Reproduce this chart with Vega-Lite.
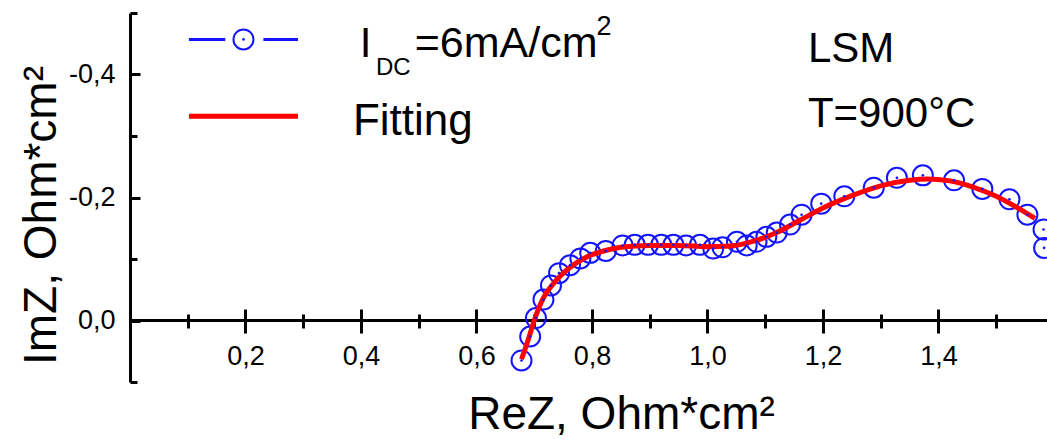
{
  "$schema": "https://vega.github.io/schema/vega-lite/v6.json",
  "width": 917,
  "height": 369,
  "autosize": {"type": "none"},
  "padding": {"left": 130, "top": 13, "right": 0, "bottom": 57},
  "background": "white",
  "config": {
    "view": {"stroke": null},
    "font": "Liberation Sans",
    "axis": {
      "grid": false,
      "domainColor": "black",
      "tickColor": "black",
      "labelColor": "black",
      "titleColor": "black",
      "labelFont": "Liberation Sans",
      "titleFont": "Liberation Sans",
      "labelFontWeight": "normal",
      "titleFontWeight": "normal"
    }
  },
  "datasets": {
    "measured": [
      {"ReZ": 0.678, "ImZ": 0.065},
      {"ReZ": 0.693, "ImZ": 0.026},
      {"ReZ": 0.703, "ImZ": -0.004},
      {"ReZ": 0.716, "ImZ": -0.034},
      {"ReZ": 0.729, "ImZ": -0.057},
      {"ReZ": 0.743, "ImZ": -0.077},
      {"ReZ": 0.762, "ImZ": -0.090},
      {"ReZ": 0.780, "ImZ": -0.101},
      {"ReZ": 0.797, "ImZ": -0.110},
      {"ReZ": 0.824, "ImZ": -0.113},
      {"ReZ": 0.853, "ImZ": -0.122},
      {"ReZ": 0.874, "ImZ": -0.123},
      {"ReZ": 0.897, "ImZ": -0.123},
      {"ReZ": 0.920, "ImZ": -0.123},
      {"ReZ": 0.941, "ImZ": -0.123},
      {"ReZ": 0.963, "ImZ": -0.122},
      {"ReZ": 0.987, "ImZ": -0.123},
      {"ReZ": 1.010, "ImZ": -0.117},
      {"ReZ": 1.026, "ImZ": -0.119},
      {"ReZ": 1.051, "ImZ": -0.128},
      {"ReZ": 1.068, "ImZ": -0.122},
      {"ReZ": 1.085, "ImZ": -0.128},
      {"ReZ": 1.102, "ImZ": -0.136},
      {"ReZ": 1.120, "ImZ": -0.143},
      {"ReZ": 1.143, "ImZ": -0.156},
      {"ReZ": 1.163, "ImZ": -0.172},
      {"ReZ": 1.197, "ImZ": -0.190},
      {"ReZ": 1.237, "ImZ": -0.202},
      {"ReZ": 1.288, "ImZ": -0.216},
      {"ReZ": 1.328, "ImZ": -0.232},
      {"ReZ": 1.373, "ImZ": -0.236},
      {"ReZ": 1.427, "ImZ": -0.228},
      {"ReZ": 1.476, "ImZ": -0.214},
      {"ReZ": 1.523, "ImZ": -0.197},
      {"ReZ": 1.554, "ImZ": -0.172},
      {"ReZ": 1.582, "ImZ": -0.148},
      {"ReZ": 1.583, "ImZ": -0.118}
    ],
    "fit": [
      {"ReZ": 0.678, "ImZ": 0.063},
      {"ReZ": 0.690, "ImZ": 0.030},
      {"ReZ": 0.700, "ImZ": 0.000},
      {"ReZ": 0.715, "ImZ": -0.035},
      {"ReZ": 0.735, "ImZ": -0.062},
      {"ReZ": 0.760, "ImZ": -0.085},
      {"ReZ": 0.790, "ImZ": -0.103},
      {"ReZ": 0.820, "ImZ": -0.113},
      {"ReZ": 0.850, "ImZ": -0.119},
      {"ReZ": 0.900, "ImZ": -0.122},
      {"ReZ": 0.950, "ImZ": -0.122},
      {"ReZ": 1.000, "ImZ": -0.120},
      {"ReZ": 1.040, "ImZ": -0.121},
      {"ReZ": 1.080, "ImZ": -0.129},
      {"ReZ": 1.120, "ImZ": -0.143},
      {"ReZ": 1.160, "ImZ": -0.163},
      {"ReZ": 1.200, "ImZ": -0.183},
      {"ReZ": 1.250, "ImZ": -0.203},
      {"ReZ": 1.300, "ImZ": -0.219},
      {"ReZ": 1.350, "ImZ": -0.228},
      {"ReZ": 1.380, "ImZ": -0.230},
      {"ReZ": 1.420, "ImZ": -0.227},
      {"ReZ": 1.460, "ImZ": -0.217},
      {"ReZ": 1.500, "ImZ": -0.202},
      {"ReZ": 1.530, "ImZ": -0.187},
      {"ReZ": 1.567, "ImZ": -0.166}
    ]
  },
  "resolve": {"axis": {"x": "independent", "y": "independent"}},
  "layer": [
    {
      "data": {"values": [{}]},
      "mark": {"type": "rule", "strokeWidth": 3, "color": "black"},
      "encoding": {
        "y": {"datum": 0, "type": "quantitative", "axis": null,
              "scale": {"domain": [-0.5, 0.1], "reverse": true, "nice": false, "zero": false}}
      }
    },
    {
      "data": {"name": "measured"},
      "mark": {"type": "point", "shape": "circle", "filled": false, "size": 400, "strokeWidth": 2, "color": "#1414ff", "opacity": 1, "clip": true},
      "encoding": {
        "x": {
          "field": "ReZ", "type": "quantitative",
          "scale": {"domain": [0, 1.588], "nice": false, "zero": false},
          "axis": {
            "orient": "bottom",
            "values": [0.2, 0.4, 0.6, 0.8, 1.0, 1.2, 1.4],
            "offset": -73,
            "domain": false,
            "tickSize": 24,
            "tickWidth": 3,
            "labelFontSize": 27,
            "labelPadding": 10,
            "labelFlush": false,
            "labelExpr": "replace(format(datum.value, '.1f'), '.', ',')",
            "title": "ReZ, Ohm*cm²",
            "titleFontSize": 46,
            "titleX": 491,
            "titleY": 119,
            "titleAlign": "center",
            "titleBaseline": "alphabetic"
          }
        },
        "y": {
          "field": "ImZ", "type": "quantitative",
          "scale": {"domain": [-0.5, 0.1], "reverse": true, "nice": false, "zero": false},
          "axis": {
            "orient": "left",
            "values": [-0.4, -0.2, 0],
            "ticks": false,
            "domain": true,
            "domainWidth": 3,
            "labelFontSize": 27,
            "labelPadding": 15,
            "labelExpr": "(datum.value < -0.001 ? '-' : '') + replace(format(abs(datum.value), '.1f'), '.', ',')",
            "title": "ImZ, Ohm*cm²",
            "titleFontSize": 46,
            "titleAngle": 270,
            "titleX": -75,
            "titleY": 202,
            "titleAlign": "center",
            "titleBaseline": "alphabetic"
          }
        }
      }
    },
    {
      "data": {"name": "fit"},
      "mark": {"type": "line", "color": "#ff0000", "strokeWidth": 5, "interpolate": "monotone", "clip": true},
      "encoding": {
        "x": {
          "field": "ReZ", "type": "quantitative",
          "axis": {
            "orient": "bottom",
            "values": [0.1, 0.3, 0.5, 0.7, 0.9, 1.1, 1.3, 1.5],
            "offset": -68,
            "domain": false,
            "tickSize": 14,
            "tickWidth": 3,
            "labels": false,
            "title": null
          }
        },
        "y": {
          "field": "ImZ", "type": "quantitative",
          "axis": {
            "orient": "left",
            "values": [-0.4, -0.2, 0],
            "offset": -10,
            "tickSize": 10,
            "tickWidth": 3,
            "domain": false,
            "labels": false,
            "title": null
          }
        }
      }
    },
    {
      "data": {"name": "measured"},
      "mark": {"type": "point", "shape": "circle", "filled": true, "size": 7, "color": "#1414ff", "opacity": 1, "clip": true},
      "encoding": {
        "x": {"field": "ReZ", "type": "quantitative", "axis": null},
        "y": {
          "field": "ImZ", "type": "quantitative",
          "axis": {
            "orient": "left",
            "values": [-0.5, -0.3, -0.1, 0.1],
            "offset": -7,
            "tickSize": 7,
            "tickWidth": 3,
            "domain": false,
            "labels": false,
            "title": null
          }
        }
      }
    },
    {
      "data": {"values": [{}]},
      "mark": {"type": "rule", "strokeWidth": 3, "color": "#1414ff"},
      "encoding": {
        "x": {"datum": 0.102, "type": "quantitative", "axis": null},
        "x2": {"datum": 0.165},
        "y": {"datum": -0.457, "type": "quantitative", "axis": null}
      }
    },
    {
      "data": {"values": [{}]},
      "mark": {"type": "rule", "strokeWidth": 3, "color": "#1414ff"},
      "encoding": {
        "x": {"datum": 0.231, "type": "quantitative", "axis": null},
        "x2": {"datum": 0.291},
        "y": {"datum": -0.457, "type": "quantitative", "axis": null}
      }
    },
    {
      "data": {"values": [{}]},
      "mark": {"type": "point", "shape": "circle", "filled": false, "size": 400, "strokeWidth": 2, "color": "#1414ff", "opacity": 1},
      "encoding": {
        "x": {"datum": 0.1965, "type": "quantitative", "axis": null},
        "y": {"datum": -0.457, "type": "quantitative", "axis": null}
      }
    },
    {
      "data": {"values": [{}]},
      "mark": {"type": "point", "shape": "circle", "filled": true, "size": 7, "color": "#1414ff", "opacity": 1},
      "encoding": {
        "x": {"datum": 0.1965, "type": "quantitative", "axis": null},
        "y": {"datum": -0.457, "type": "quantitative", "axis": null}
      }
    },
    {
      "data": {"values": [{}]},
      "mark": {"type": "rule", "strokeWidth": 5, "color": "#ff0000"},
      "encoding": {
        "x": {"datum": 0.102, "type": "quantitative", "axis": null},
        "x2": {"datum": 0.291},
        "y": {"datum": -0.332, "type": "quantitative", "axis": null}
      }
    },
    {
      "data": {"values": [{}]},
      "mark": {"type": "text", "text": "I", "fontSize": 42, "align": "left", "baseline": "alphabetic", "color": "black"},
      "encoding": {
        "x": {"datum": 0.398, "type": "quantitative", "axis": null},
        "y": {"datum": -0.428, "type": "quantitative", "axis": null}
      }
    },
    {
      "data": {"values": [{}]},
      "mark": {"type": "text", "text": "DC", "fontSize": 24, "align": "left", "baseline": "alphabetic", "color": "black"},
      "encoding": {
        "x": {"datum": 0.426, "type": "quantitative", "axis": null},
        "y": {"datum": -0.400, "type": "quantitative", "axis": null}
      }
    },
    {
      "data": {"values": [{}]},
      "mark": {"type": "text", "text": "=6mA/cm", "fontSize": 43, "align": "left", "baseline": "alphabetic", "color": "black"},
      "encoding": {
        "x": {"datum": 0.493, "type": "quantitative", "axis": null},
        "y": {"datum": -0.428, "type": "quantitative", "axis": null}
      }
    },
    {
      "data": {"values": [{}]},
      "mark": {"type": "text", "text": "2", "fontSize": 27, "align": "left", "baseline": "alphabetic", "color": "black"},
      "encoding": {
        "x": {"datum": 0.808, "type": "quantitative", "axis": null},
        "y": {"datum": -0.465, "type": "quantitative", "axis": null}
      }
    },
    {
      "data": {"values": [{}]},
      "mark": {"type": "text", "text": "Fitting", "fontSize": 44, "align": "left", "baseline": "alphabetic", "color": "black"},
      "encoding": {
        "x": {"datum": 0.386, "type": "quantitative", "axis": null},
        "y": {"datum": -0.302, "type": "quantitative", "axis": null}
      }
    },
    {
      "data": {"values": [{}]},
      "mark": {"type": "text", "text": "LSM", "fontSize": 42, "align": "left", "baseline": "alphabetic", "color": "black"},
      "encoding": {
        "x": {"datum": 1.174, "type": "quantitative", "axis": null},
        "y": {"datum": -0.421, "type": "quantitative", "axis": null}
      }
    },
    {
      "data": {"values": [{}]},
      "mark": {"type": "text", "text": "T=900°C", "fontSize": 42, "align": "left", "baseline": "alphabetic", "color": "black"},
      "encoding": {
        "x": {"datum": 1.174, "type": "quantitative", "axis": null},
        "y": {"datum": -0.314, "type": "quantitative", "axis": null}
      }
    }
  ]
}
